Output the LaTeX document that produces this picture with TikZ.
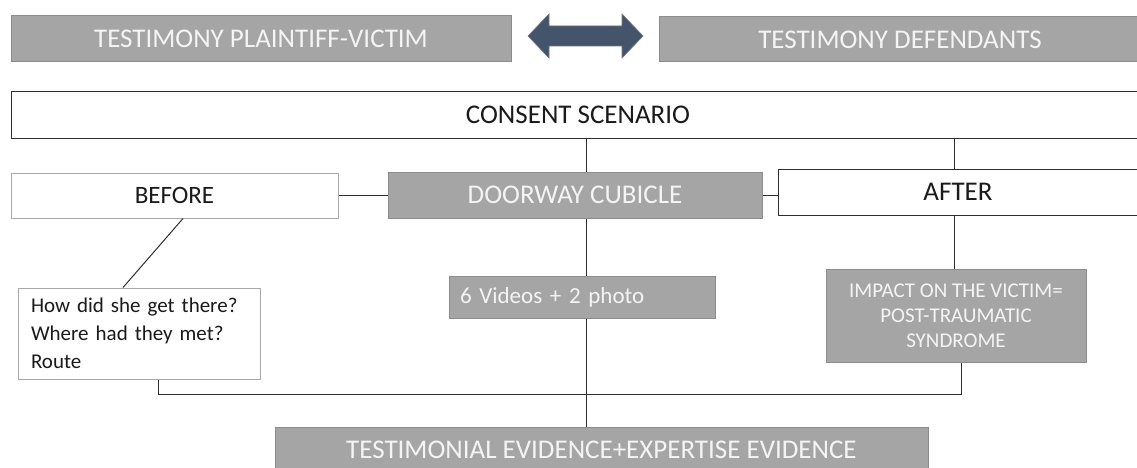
\documentclass[tikz,border=0pt]{standalone}
\usepackage{fontspec}
\setmainfont{Carlito}
\usetikzlibrary{calc}
\definecolor{boxgray}{HTML}{A5A5A5}
\definecolor{boxedge}{HTML}{8C8C8C}
\definecolor{lightedge}{HTML}{A8A8A8}
\definecolor{arrowblue}{HTML}{44546A}
\definecolor{wtext}{HTML}{F4F4F4}
\definecolor{ktext}{HTML}{1A1A1A}
\definecolor{linec}{HTML}{2E2E2E}
\tikzset{
  gbox/.style={rectangle, fill=boxgray, draw=boxedge, line width=1pt, text=wtext, inner sep=0pt},
  wbox/.style={rectangle, fill=white, draw=lightedge, line width=1pt, text=ktext, inner sep=0pt},
  kbox/.style={rectangle, fill=white, draw=linec, line width=1pt, text=ktext, inner sep=0pt},
  conn/.style={draw=linec, line width=1pt},
  big/.style={font=\fontsize{27}{32}\selectfont},
  mid/.style={font=\fontsize{25}{30}\selectfont},
  small/.style={font=\fontsize{21}{28}\selectfont},
  dblarrow/.style={fill=arrowblue, draw=arrowblue!80!white, line width=0.6pt, line join=miter},
}
\begin{document}
\begin{tikzpicture}[x=1pt,y=-1pt]
\useasboundingbox (0,0) rectangle (1137,468);
\clip (0,0) rectangle (1137,468);
\fill[white] (0,0) rectangle (1137,468);

% top row
\node[gbox, big, minimum width=500, minimum height=46] (tl) at (261,39) {TESTIMONY PLAINTIFF-VICTIM};
\node[gbox, big, minimum width=482, minimum height=45] (tr) at (900,39.5) {TESTIMONY DEFENDANTS};
% double arrow between the two testimony boxes
\path[dblarrow] (528,36) -- (549,14) -- (549,26) -- (622,26) -- (622,14) -- (643,36)
  -- (622,58) -- (622,46) -- (549,46) -- (549,58) -- cycle;

% consent
\node[kbox, big, minimum width=1134, minimum height=46] (consent) at (578,115) {CONSENT SCENARIO};

% second row
\node[wbox, mid, minimum width=327, minimum height=45] (before) at (174.5,195.5) {BEFORE};
\node[gbox, big, minimum width=374, minimum height=46] (door) at (575,195) {DOORWAY CUBICLE};
\node[kbox, big, minimum width=360, minimum height=46] (after) at (958,192) {AFTER};

% third row
\node[wbox, small, minimum width=242, minimum height=91, text width=216, inner xsep=13, align=left] (question) at (139,333.5)
  {How did she get there?\\Where had they met?\\Route};
\node[gbox, font=\fontsize{23}{28}\selectfont, minimum width=266, minimum height=42, text width=244, inner xsep=11, align=left] (video) at (582,297)
  {6 Videos + 2 photo};
\node[gbox, font=\fontsize{21}{25}\selectfont, minimum width=260, minimum height=93, align=center] (impact) at (956,315.5)
  {IMPACT ON THE VICTIM=\\POST-TRAUMATIC\\SYNDROME};

% bottom
\node[gbox, big, minimum width=653, minimum height=46] (testi) at (601.5,450) {TESTIMONIAL EVIDENCE+EXPERTISE EVIDENCE};

% connectors
\coordinate (cx) at (586,0);
\coordinate (ax) at (954,0);
\coordinate (qx) at (158,0);
\coordinate (ix) at (961,0);
\coordinate (busy) at (0,394);

\draw[conn] (consent.south -| cx) -- (door.north -| cx);
\draw[conn] (consent.south -| ax) -- (after.north -| ax);
\draw[conn] (before.east) -- (before.east -| door.west);
\draw[conn] (door.east) -- (door.east -| after.west);
\draw[conn] (door.south -| cx) -- (video.north -| cx);
\draw[conn] (video.south -| cx) -- (testi.north -| cx);
\draw[conn] (after.south -| ax) -- (impact.north -| ax);
\draw[conn] ($(before.south)+(8.5,0)$) -- ($(question.north)+(-16,0)$);
\draw[conn] (question.south -| qx) -- (qx |- busy) -- (ix |- busy) -- (impact.south -| ix);
\end{tikzpicture}
\end{document}
